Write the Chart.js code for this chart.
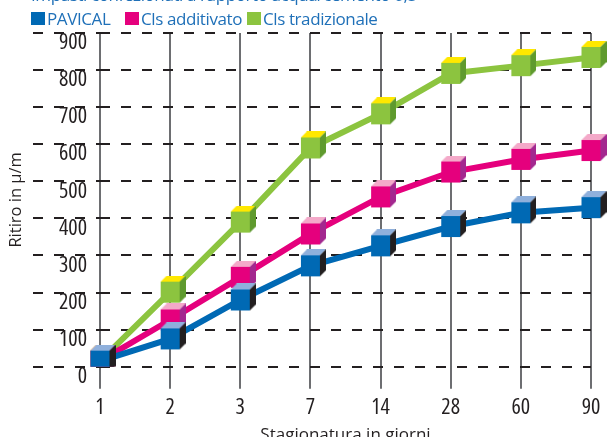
<!DOCTYPE html>
<html><head><meta charset="utf-8">
<script src="https://cdn.jsdelivr.net/npm/chart.js@4.4.1/dist/chart.umd.min.js"></script>
<style>
html,body{margin:0;padding:0;background:#fff;overflow:hidden;}
#wrap{position:relative;width:609px;height:437px;overflow:hidden;background:#fff;}
#chart{position:absolute;left:0;top:0;}
.t{position:absolute;white-space:nowrap;font-family:'Open Sans',sans-serif;font-weight:400;color:#1f70b8;font-size:17px;line-height:17px;letter-spacing:-0.4px;}
.sw{position:absolute;width:14px;height:13px;}
</style></head><body>
<div id="wrap">
<canvas id="chart" width="609" height="452"></canvas>
<div id="title" class="t" style="left:31px;top:-14px"></div>
<div id="legend"></div>
</div>
<script>
// ---- data ----
const categories = ['1', '2', '3', '7', '14', '28', '60', '90'];
const seriesNames = ['PAVICAL', 'Cls additivato', 'Cls tradizionale'];
const pavical = [15, 75, 180, 272, 326, 378, 415, 429];
const clsAdditivato = [15, 126, 241, 358, 458, 525, 559, 583];
const clsTradizionale = [15, 201, 390, 590, 682, 791, 812, 834];
const yTickValues = [0, 100, 200, 300, 400, 500, 600, 700, 800, 900];
const chartTitle = 'Impasti confezionati a rapporto acqua/cemento 0,5';
const xTitle = 'Stagionatura in giorni';
const yTitle = 'Ritiro in μ/m';

// ---- styles ----
const FAMILY = "'Open Sans', sans-serif";
const frontColors = ['#0069b4', '#e5007d', '#8cc43f'];
const topColors = ['#8fb0dc', '#f4a9c9', '#ffe800'];
const sideColors = ['#231f20', '#a3288f', '#5f9a2e'];
const legendLefts = [31, 125, 247];

function cube(front, top, side) {
  const f = 19, h = 21, d = 6;
  const c = document.createElement('canvas');
  c.width = f + 2 * d; c.height = h + 2 * d;
  const g = c.getContext('2d');
  const x0 = d, y0 = d;
  g.fillStyle = front; g.fillRect(x0, y0, f, h);
  g.fillStyle = top; g.beginPath();
  g.moveTo(x0, y0); g.lineTo(x0 + f, y0); g.lineTo(x0 + f + d, y0 - d); g.lineTo(x0 + d, y0 - d); g.closePath(); g.fill();
  g.fillStyle = side; g.beginPath();
  g.moveTo(x0 + f, y0); g.lineTo(x0 + f + d, y0 - d); g.lineTo(x0 + f + d, y0 + h - d); g.lineTo(x0 + f, y0 + h); g.closePath(); g.fill();
  return c;
}

// title + legend (HTML text)
document.getElementById('title').textContent = chartTitle;
const leg = document.getElementById('legend');
seriesNames.forEach((n, i) => {
  const sw = document.createElement('div');
  sw.className = 'sw';
  sw.style.left = legendLefts[i] + 'px';
  sw.style.top = '12px';
  sw.style.background = frontColors[i];
  leg.appendChild(sw);
  const tx = document.createElement('div');
  tx.className = 't';
  tx.style.left = (legendLefts[i] + 16) + 'px';
  tx.style.top = '9.8px';
  tx.textContent = n;
  leg.appendChild(tx);
});

const seriesData = [pavical, clsAdditivato, clsTradizionale];
const datasets = seriesNames.map((n, i) => ({
  label: n,
  data: seriesData[i],
  borderColor: frontColors[i],
  backgroundColor: frontColors[i],
  borderWidth: 6,
  tension: 0,
  fill: false,
  pointStyle: cube(frontColors[i], topColors[i], sideColors[i]),
  pointRadius: 12,
  pointHoverRadius: 12
}));

const CANVAS_H = 452;
const CHART_BOTTOM = 366.7;

new Chart(document.getElementById('chart'), {
  type: 'line',
  data: { labels: categories, datasets },
  options: {
    responsive: false,
    animation: false,
    events: [],
    layout: { padding: { top: 33, right: 6, left: 0, bottom: 0 } },
    plugins: { legend: { display: false }, tooltip: { enabled: false }, title: { display: false } },
    scales: {
      x: {
        type: 'category',
        offset: false,
        grid: { color: '#6d6e71', lineWidth: 2, tickLength: 22, drawTicks: true, tickColor: '#6d6e71' },
        border: { display: false },
        ticks: { color: '#231f20', font: { family: FAMILY, size: 22, weight: '400 condensed', lineHeight: 1 }, padding: 8, maxRotation: 0, autoSkip: false },
        title: { display: true, text: xTitle, color: '#231f20', font: { family: FAMILY, size: 17, weight: '400' }, padding: { top: 0, bottom: 7 } },
        afterFit(s) { s.height = CANVAS_H - CHART_BOTTOM; s.paddingLeft = 0; s.paddingRight = 0; }
      },
      y: {
        min: 0, max: 900,
        afterBuildTicks(s) { s.ticks = yTickValues.map(v => ({ value: v })); },
        grid: { color: '#231f20', lineWidth: 2, tickLength: 67, drawTicks: true, tickColor: '#231f20', tickBorderDash: [10, 11] },
        border: { display: false, dash: [10, 11] },
        ticks: {
          autoSkip: false,
          color: '#231f20', font: { family: FAMILY, size: 22, weight: '400 condensed', lineHeight: '20px' }, padding: -54,
          callback: (v) => ['', String(v)]
        },
        title: { display: true, text: yTitle, color: '#231f20', font: { family: FAMILY, size: 16.5, weight: '400' }, padding: { top: 6, bottom: 0 } },
        afterFit(s) { s.width = 100; s.paddingTop = 0; s.paddingBottom = 0; }
      }
    }
  }
});
</script>
</body></html>
